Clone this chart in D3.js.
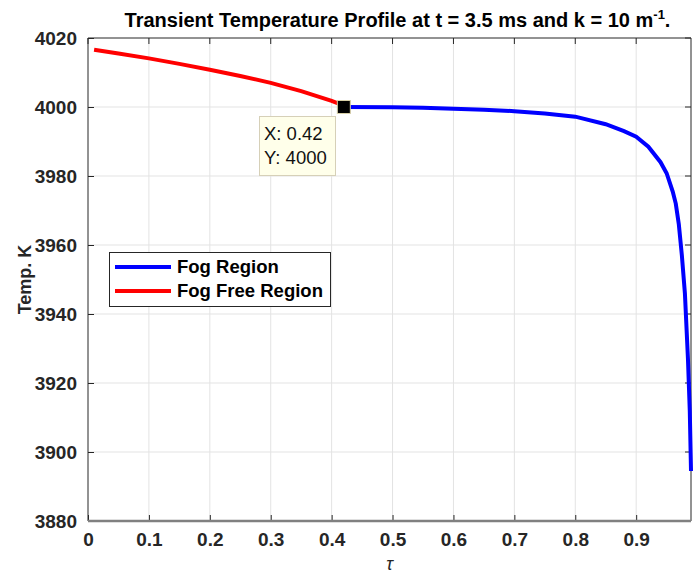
<!DOCTYPE html>
<html>
<head>
<meta charset="utf-8">
<script src="https://cdn.jsdelivr.net/npm/d3@7"></script>
<style>
  body { margin: 0; background: #fff; }
  svg { display: block; font-family: "Liberation Sans", Arial, sans-serif; }
</style>
</head>
<body>
<svg id="chart" width="693" height="575"></svg>
<script>
// fog free part (red), tau vs temperature
const freeTau  = [0.01, 0.05, 0.1, 0.15, 0.2, 0.25, 0.3, 0.35, 0.4, 0.42];
const freeTemp = [4016.6, 4015.5, 4014.1, 4012.5, 4010.8, 4009.0, 4007.0, 4004.6, 4001.8, 4000.4];

// fog part (blue)
const fogTau  = [0.42, 0.5, 0.55, 0.6, 0.65, 0.7, 0.75, 0.8, 0.85, 0.88, 0.9, 0.92, 0.94, 0.95, 0.96, 0.965, 0.97, 0.975, 0.98, 0.985, 0.988, 0.99];
const fogTemp = [4000, 3999.9, 3999.8, 3999.5, 3999.2, 3998.8, 3998.1, 3997.2, 3995.0, 3993.0, 3991.4, 3988.5, 3984.0, 3980.8, 3975.5, 3972.0, 3966.0, 3957.0, 3946.0, 3927.0, 3912.0, 3894.5];

const xTicks = [0, 0.1, 0.2, 0.3, 0.4, 0.5, 0.6, 0.7, 0.8, 0.9];
const yTicks = [3880, 3900, 3920, 3940, 3960, 3980, 4000, 4020];

const seriesNames = ["Fog Region", "Fog Free Region"];
const seriesColors = ["#0000ff", "#ff0000"];

const tipPoint = { x: 0.42, y: 4000 };

const svg = d3.select("#chart");
const plotL = 88, plotR = 691, plotT = 38, plotB = 521;

const x = d3.scaleLinear().domain([0, 0.99]).range([plotL, plotR]);
const y = d3.scaleLinear().domain([3880, 4020]).range([plotB, plotT]);

const axisColor = "#262626";

// grid
svg.append("g").selectAll("line").data(xTicks.slice(1)).enter().append("line")
    .attr("x1", d => x(d)).attr("x2", d => x(d))
    .attr("y1", plotT).attr("y2", plotB)
    .attr("stroke", "#e3e3e3").attr("stroke-width", 1);
svg.append("g").selectAll("line").data(yTicks.slice(1, -1)).enter().append("line")
    .attr("x1", plotL).attr("x2", plotR)
    .attr("y1", d => y(d)).attr("y2", d => y(d))
    .attr("stroke", "#e3e3e3").attr("stroke-width", 1);

// axes (ticks pointing inwards like matlab)
const xAxis = d3.axisBottom(x).tickValues(xTicks).tickSize(-6).tickFormat(d3.format("")).tickPadding(14);
const yAxis = d3.axisLeft(y).tickValues(yTicks).tickSize(-6).tickFormat(d3.format("d")).tickPadding(11);

const gx = svg.append("g").attr("transform", `translate(0,${plotB})`).call(xAxis);
const gy = svg.append("g").attr("transform", `translate(${plotL},0)`).call(yAxis);

[gx, gy].forEach(g => {
    g.select(".domain").remove();
    g.selectAll(".tick line").attr("stroke", axisColor);
    g.selectAll(".tick text")
        .attr("fill", axisColor)
        .style("font-size", "19px")
        .style("font-weight", "bold");
});
gx.selectAll(".tick text").attr("dy", "0.6em");

// top and right ticks
svg.append("g").selectAll("line").data(xTicks).enter().append("line")
    .attr("x1", d => x(d)).attr("x2", d => x(d))
    .attr("y1", plotT).attr("y2", plotT + 6)
    .attr("stroke", axisColor);
svg.append("g").selectAll("line").data(yTicks).enter().append("line")
    .attr("x1", plotR - 6).attr("x2", plotR)
    .attr("y1", d => y(d)).attr("y2", d => y(d))
    .attr("stroke", axisColor);

// box
svg.append("line").attr("x1", plotL).attr("x2", plotR).attr("y1", plotT).attr("y2", plotT)
    .attr("stroke", axisColor).attr("stroke-width", 1);
svg.append("line").attr("x1", plotR).attr("x2", plotR).attr("y1", plotT).attr("y2", plotB)
    .attr("stroke", axisColor).attr("stroke-width", 1);
svg.append("line").attr("x1", plotL).attr("x2", plotL).attr("y1", plotT).attr("y2", plotB)
    .attr("stroke", axisColor).attr("stroke-width", 1);
svg.append("line").attr("x1", plotL).attr("x2", plotR).attr("y1", plotB).attr("y2", plotB)
    .attr("stroke", "#808080").attr("stroke-width", 2.5);

// lines
const line = d3.line().x(d => x(d[0])).y(d => y(d[1]));
const fogData = d3.zip(fogTau, fogTemp);
const freeData = d3.zip(freeTau, freeTemp);

svg.append("path").datum(freeData).attr("d", line)
    .attr("fill", "none").attr("stroke", seriesColors[1]).attr("stroke-width", 4);
svg.append("path").datum(fogData).attr("d", line)
    .attr("fill", "none").attr("stroke", seriesColors[0]).attr("stroke-width", 4);

// data tip marker
svg.append("rect")
    .attr("x", x(tipPoint.x) - 6.5).attr("y", y(tipPoint.y) - 6.5)
    .attr("width", 13).attr("height", 13)
    .attr("fill", "#000").attr("stroke", "#d8d0a8").attr("stroke-width", 1);

// data tip box
const tip = svg.append("g");
tip.append("rect")
    .attr("x", 259.5).attr("y", 116.5).attr("width", 76).attr("height", 59)
    .attr("fill", "#ffffea").attr("stroke", "#d6d0b8");
tip.append("text").attr("x", 264).attr("y", 140)
    .style("font-size", "18.5px").attr("fill", "#111")
    .text("X: " + tipPoint.x);
tip.append("text").attr("x", 264).attr("y", 164)
    .style("font-size", "18.5px").attr("fill", "#111")
    .text("Y: " + tipPoint.y);

// legend
const legend = svg.append("g");
legend.append("rect")
    .attr("x", 109.5).attr("y", 252.5).attr("width", 221).attr("height", 54)
    .attr("fill", "#fff").attr("stroke", "#262626").attr("stroke-width", 1);
seriesNames.forEach((name, i) => {
    const ly = 267 + i * 24;
    legend.append("line")
        .attr("x1", 115).attr("x2", 171).attr("y1", ly).attr("y2", ly)
        .attr("stroke", seriesColors[i]).attr("stroke-width", 4);
    legend.append("text")
        .attr("x", 177).attr("y", ly + 6)
        .style("font-size", "18.5px").style("font-weight", "bold")
        .attr("fill", "#000")
        .text(name);
});

// title
const title = svg.append("text")
    .attr("x", (plotL + plotR) / 2 + 8).attr("y", 27)
    .attr("text-anchor", "middle")
    .style("font-size", "20px").style("font-weight", "bold")
    .attr("fill", "#000");
title.append("tspan").text("Transient Temperature Profile at t = 3.5 ms and k = 10 m");
title.append("tspan").attr("dy", -8).style("font-size", "13px").text("-1");
title.append("tspan").attr("dy", 8).text(".");

// axis labels
svg.append("text")
    .attr("transform", `translate(31,${(plotT + plotB) / 2}) rotate(-90)`)
    .attr("text-anchor", "middle")
    .style("font-size", "18px").style("font-weight", "bold")
    .attr("fill", axisColor)
    .text("Temp. K");

svg.append("text")
    .attr("x", (plotL + plotR) / 2).attr("y", 570)
    .attr("text-anchor", "middle")
    .style("font-size", "18px").style("font-style", "italic")
    .attr("fill", axisColor)
    .text("τ");
</script>
</body>
</html>
